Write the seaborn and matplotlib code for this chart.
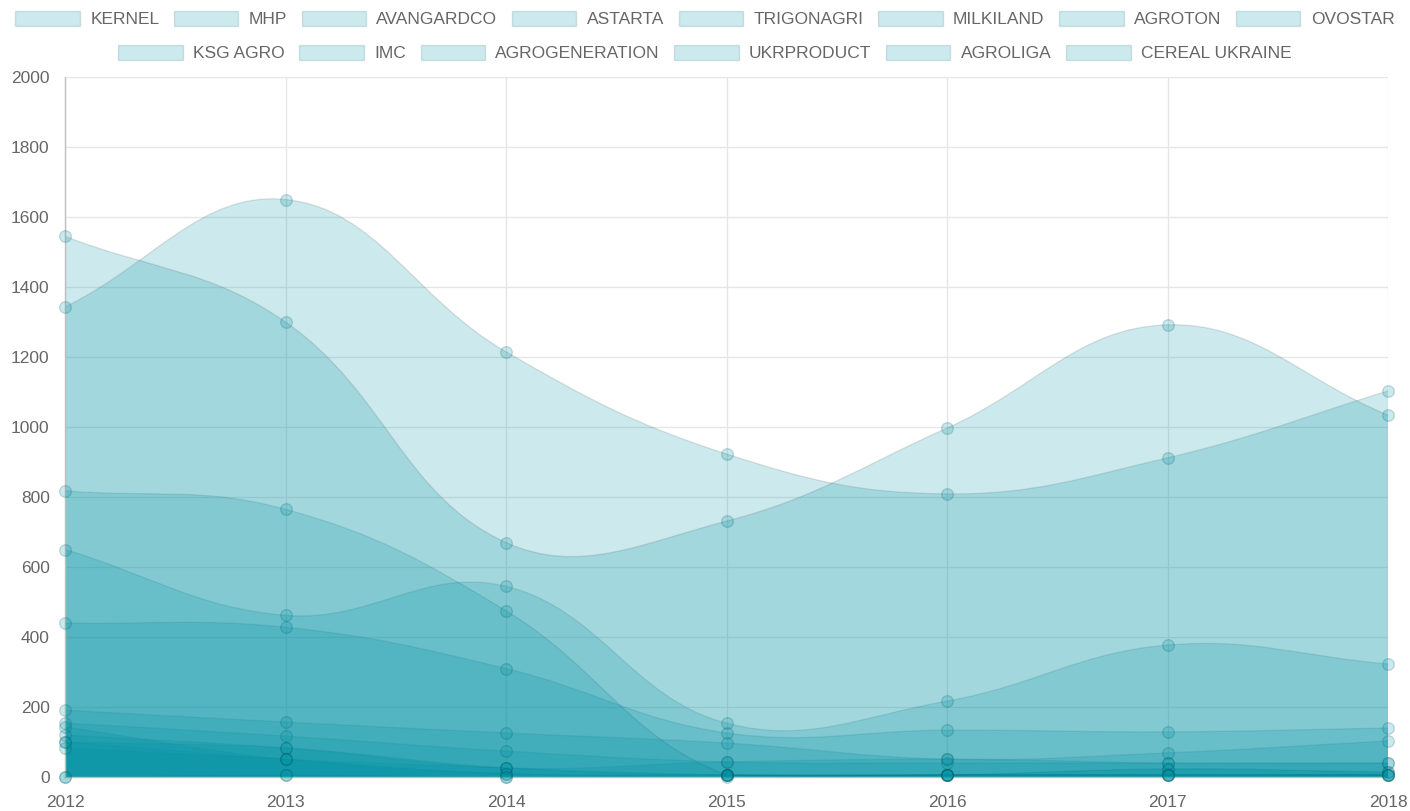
import numpy as np
import pandas as pd
import matplotlib.pyplot as plt
import seaborn as sns
from matplotlib.path import Path
from matplotlib.patches import PathPatch, Patch

years = [2012, 2013, 2014, 2015, 2016, 2017, 2018]

companies = ["KERNEL", "MHP", "AVANGARDCO", "ASTARTA", "TRIGONAGRI", "MILKILAND",
             "AGROTON", "OVOSTAR", "KSG AGRO", "IMC", "AGROGENERATION",
             "UKRPRODUCT", "AGROLIGA", "CEREAL UKRAINE"]

kernel = [1545, 1300, 670, 731, 997, 1292, 1034]
mhp = [1343, 1650, 1215, 923, 809, 912, 1103]
avangardco = [818, 765, 475, 6, 6, 6, 6]
astarta = [650, 462, 545, 154, 217, 377, 323]
trigonagri = [440, 428, 310, 126, 134, 129, 140]
milkiland = [191, 157, 126, 97, 51, 69, 103]
agroton = [154, 117, 74, 43, 40, 40, 40]
ovostar = [120, 83, 26, 43, 51, 40, 40]
ksg_agro = [100, 83, 26, 6, 6, 23, 14]
imc = [83, 51, 26, 6, 6, 23, 14]
agrogeneration = [143, 51, 10, 6, 6, 6, 6]
ukrproduct = [100, 51, 10, 6, 6, 6, 6]
agroliga = [0, 6, 0, 6, 6, 6, 6]
cereal_ukraine = [0, 6, 0, 0, 6, 6, 6]

values = [kernel, mhp, avangardco, astarta, trigonagri, milkiland, agroton,
          ovostar, ksg_agro, imc, agrogeneration, ukrproduct, agroliga,
          cereal_ukraine]

base = (0 / 255, 147 / 255, 165 / 255)
fill_c = base + (0.2,)
edge_c = (0, 0, 0, 0.1)
text_c = "#666666"

sns.set_theme(style="white")
plt.rcParams["font.family"] = ["Liberation Sans", "DejaVu Sans"]

W, H = 1410, 811
fig = plt.figure(figsize=(W / 100, H / 100), dpi=100)
left, right, top, bottom = 65, 1388, 77, 777
ax = fig.add_axes([left / W, (H - bottom) / H, (right - left) / W, (bottom - top) / H])
ax.set_xlim(2012, 2018)
ax.set_ylim(0, 2000)

# pixel scale, used for the spline control points (chart.js style)
sx = (right - left) / (2018 - 2012)
sy = (bottom - top) / 2000.0
tension = 0.4


def control_points(xs, ys):
    px = np.array(xs, float) * sx
    py = np.array(ys, float) * sy
    n = len(px)
    cps = []
    for i in range(n):
        pi = max(i - 1, 0)
        ni = min(i + 1, n - 1)
        d01 = np.hypot(px[i] - px[pi], py[i] - py[pi])
        d12 = np.hypot(px[ni] - px[i], py[ni] - py[i])
        tot = d01 + d12
        s01 = d01 / tot if tot else 0
        s12 = d12 / tot if tot else 0
        fa, fb = tension * s01, tension * s12
        dx, dy = px[ni] - px[pi], py[ni] - py[pi]
        prev_cp = (px[i] - fa * dx, max(py[i] - fa * dy, 0))
        next_cp = (px[i] + fb * dx, max(py[i] + fb * dy, 0))
        cps.append((prev_cp, next_cp))
    return px, py, cps


def area_paths(xs, ys):
    px, py, cps = control_points(xs, ys)
    curve = [(px[0] / sx, py[0] / sy)]
    ccodes = [Path.MOVETO]
    for i in range(len(px) - 1):
        c1 = cps[i][1]
        c2 = cps[i + 1][0]
        curve += [(c1[0] / sx, c1[1] / sy), (c2[0] / sx, c2[1] / sy),
                  (px[i + 1] / sx, py[i + 1] / sy)]
        ccodes += [Path.CURVE4] * 3
    fverts = [(px[0] / sx, 0)] + curve + [(px[-1] / sx, 0), (px[0] / sx, 0)]
    fcodes = [Path.MOVETO, Path.LINETO] + ccodes[1:] + [Path.LINETO, Path.CLOSEPOLY]
    return Path(fverts, fcodes), Path(curve, ccodes)


for k, vals in enumerate(values):
    zo = 2 + (len(values) - k) * 0.01
    fill_path, line_path = area_paths(years, vals)
    ax.add_patch(PathPatch(fill_path, facecolor=fill_c, edgecolor="none", zorder=zo))
    ax.add_patch(PathPatch(line_path, facecolor="none", edgecolor=edge_c, lw=1, zorder=zo))

df = pd.DataFrame({
    "year": np.tile(years, len(companies)),
    "value": np.concatenate(values),
    "company": np.repeat(companies, len(years)),
})
sns.scatterplot(data=df, x="year", y="value", ax=ax, color=base, alpha=0.2,
                s=70, edgecolor=(0, 0.35, 0.4), linewidth=1, clip_on=False,
                zorder=5, legend=False)

ax.set_xticks(years)
ax.set_yticks(np.arange(0, 2001, 200))
ax.grid(True, color="#e6e6e6", alpha=1, lw=1)
ax.set_axisbelow(True)
ax.tick_params(axis="both", length=9, width=1, color="#e6e6e6",
               labelcolor=text_c, labelsize=12.5, pad=2)
ax.tick_params(axis="x", pad=4)
ax.set_xlabel("")
ax.set_ylabel("")
for s in ["top", "right"]:
    ax.spines[s].set_visible(False)
for s in ["left", "bottom"]:
    ax.spines[s].set_color("#c0c0c0")
    ax.spines[s].set_linewidth(1)

handles = [Patch(facecolor=fill_c, edgecolor=(0, 0.35, 0.4, 0.15), lw=1) for _ in companies]
leg_kw = dict(frameon=False, fontsize=12.5, handlelength=3.7, handleheight=1.0,
              handletextpad=0.6, columnspacing=0.85, labelcolor=text_c,
              borderaxespad=0, borderpad=0)
leg1 = fig.legend(handles[:8], companies[:8], ncol=8, loc="center",
                  bbox_to_anchor=(0.5, 1 - 19 / H), **leg_kw)
leg2 = fig.legend(handles[8:], companies[8:], ncol=6, loc="center",
                  bbox_to_anchor=(0.5, 1 - 53 / H), **leg_kw)

fig.savefig("out.png", dpi=100)
